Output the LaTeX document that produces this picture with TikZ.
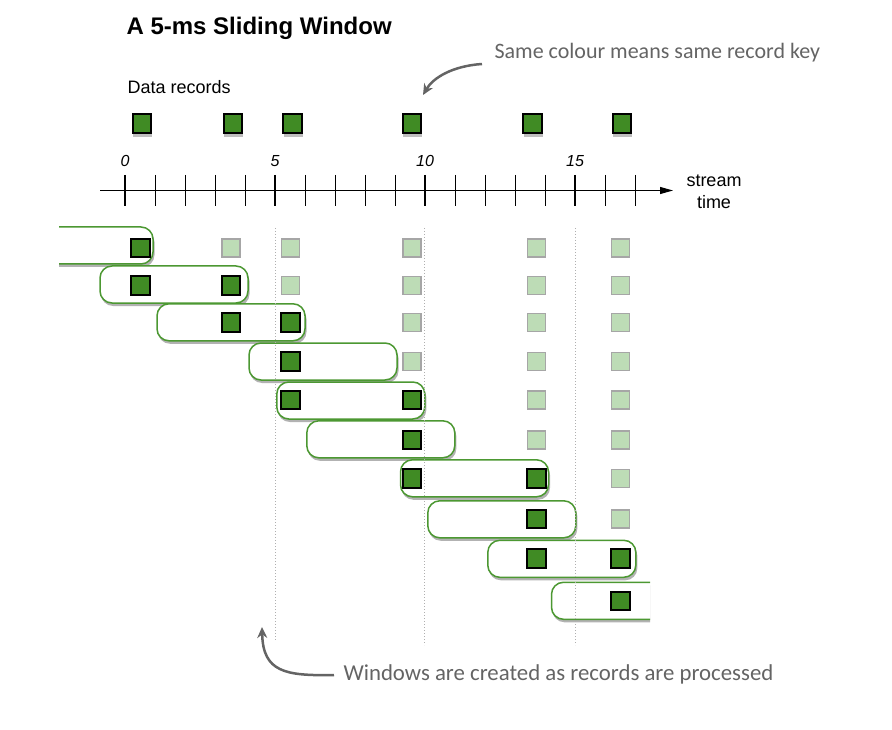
\documentclass[tikz,border=0pt]{standalone}
\usepackage{fontspec}
\setmainfont{Liberation Sans}
\newfontfamily\handfont{Carlito}
\usetikzlibrary{arrows.meta}

\definecolor{recgreen}{RGB}{64,139,36}
\definecolor{wingreen}{RGB}{76,152,50}
\definecolor{ghostgreen}{RGB}{189,220,182}
\definecolor{ghostgray}{RGB}{166,166,166}
\definecolor{notegray}{RGB}{100,100,100}
\definecolor{guidegray}{RGB}{175,175,175}

\begin{document}
\begin{tikzpicture}[x=1pt,y=-1pt,
  record/.style={
        draw=black, line width=2pt, fill=recgreen,
        minimum size=18.5pt, inner sep=0pt
  },
  ghost/.style={
        draw=ghostgray, line width=1.5pt, fill=ghostgreen,
        minimum size=18pt, inner sep=0pt
  },
  window/.style={
        draw=wingreen, line width=1.5pt, fill=white,
        rounded corners=12pt, inner sep=0pt,
        minimum width=148pt, minimum height=37pt
  },
  winshadow/.style={fill=black!30, rounded corners=12pt},
  recshadow/.style={fill=black!25},
  minortick/.style={line width=1pt},
  majortick/.style={line width=2.5pt},
  guide/.style={guidegray, line width=1pt, dotted},
  note/.style={text=notegray, font=\handfont\fontsize{22}{24}\selectfont},
  notearrow/.style={draw=notegray, line width=2.5pt, -{Stealth[length=11pt,width=10pt]}}
]

    \useasboundingbox (0,0) rectangle (892,730);

    \node[anchor=base west, font=\bfseries\fontsize{24}{26}\selectfont] (title) at (123,34.3) {A 5-ms Sliding Window};
    \node[anchor=base west, font=\fontsize{18}{20}\selectfont] (datalbl) at (124,93.3) {Data records};

    \foreach \k/\x in {1/142, 2/233, 3/292.5, 4/412, 5/532.5, 6/622} {
        \fill[recshadow] (\x-9,118) rectangle (\x+10,137);
        \node[record] (rec\k) at (\x,123.5) {};
    }

    \coordinate (axisstart) at (100,190.5);
    \coordinate (axisend) at (673,190.5);
    \draw[line width=1pt, -{Triangle[length=13pt,width=7pt]}] (axisstart) -- (axisend);
    \foreach \t in {1,2,3,4,6,7,8,9,11,12,13,14,16,17}
        \draw[minortick] ({125+30*\t},175) -- ({125+30*\t},206);
    \foreach \t in {0,5,10,15} {
        \draw[majortick] ({125+30*\t},175) -- ({125+30*\t},206);
        \node[font=\itshape\fontsize{16}{16}\selectfont] (lbl\t) at ({125+30*\t},161) {\t};
    }
    \node[align=center, font=\fontsize{18}{22}\selectfont] (streamlbl) at (714,192) {stream\\time};

    \begin{scope}
        \clip (59,0) rectangle (650,730);
        \foreach \n/\cx/\cy in {1/79/245.5, 2/174/284.5, 3/231/322.3, 4/323/361.5, 5/350.8/400.5,
                                6/380.8/439.3, 7/474.5/478.3, 8/501.8/519.3, 9/561.8/558.8, 10/625.5/600.8} {
            \fill[winshadow] (\cx-73,\cy-15.5) rectangle (\cx+75.5,\cy+21.5);
            \node[window] (win\n) at (\cx,\cy) {};
        }
    \end{scope}

    \draw[guide] (275,228) -- (275,640);
    \draw[guide] (424,228) -- (424,645);
    \draw[guide] (575,228) -- (575,645);

    \foreach \r/\y/\first/\last in {1/248/1/1, 2/285.5/1/2, 3/322.5/2/3, 4/361.5/3/3, 5/400/3/4,
                                    6/440/4/4, 7/478.5/4/5, 8/519/5/5, 9/558.5/5/6, 10/601/6/6} {
        \foreach \k in {\first,...,6} {
            \pgfmathsetmacro\rx{{140.5,231,290.5,412,536.5,620.5}[\k-1]}
            \ifnum\k>\last
                \node[ghost] (sq\r-\k) at (\rx,\y) {};
            \else
                \node[record] (sq\r-\k) at (\rx,\y) {};
            \fi
        }
    }

    \node[note, anchor=base west] (keynote) at (491,58.3) {Same colour means same record key};
    \coordinate (keyfrom) at (482,64);
    \coordinate (keyto) at (423,95);
    \draw[notearrow] (keyfrom) .. controls (452,66) and (433,78) .. (keyto);

    \node[note, anchor=base west, font=\handfont\fontsize{22.8}{24}\selectfont] (winnote) at (340,680) {Windows are created as records are processed};
    \coordinate (winfrom) at (334,675);
    \coordinate (winto) at (262,627);
    \draw[notearrow] (winfrom) .. controls (285,676) and (263,672) .. (winto);
\end{tikzpicture}
\end{document}
